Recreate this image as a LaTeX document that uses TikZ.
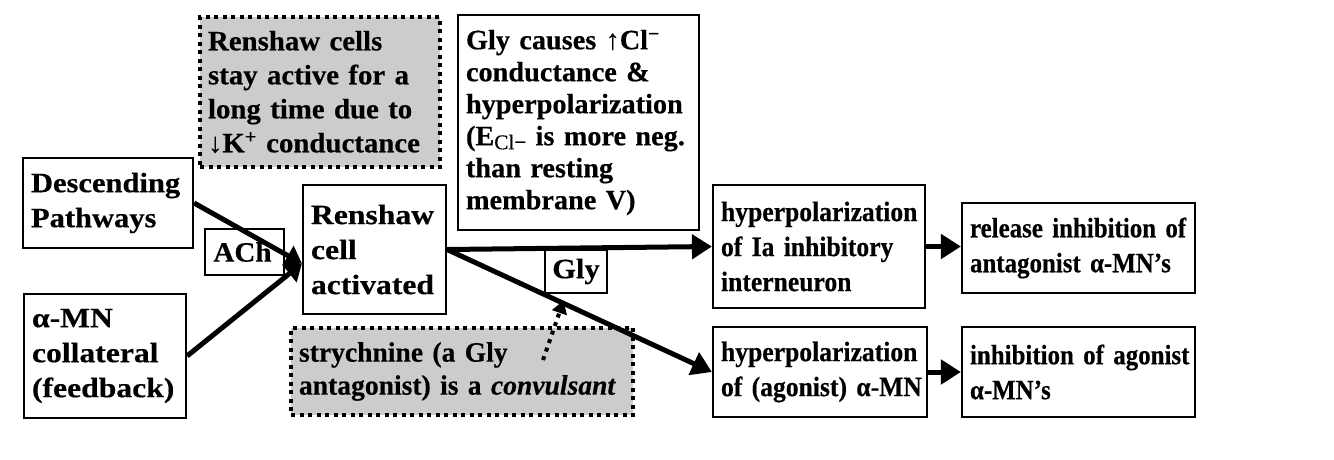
\documentclass[tikz,border=0pt]{standalone}
\usepackage{fontspec}
\setmainfont{Liberation Serif}
\newfontfamily\fA{Liberation Serif}[FakeStretch=1.09,FakeBold=0.4]
\newfontfamily\fAc{Liberation Serif}[FakeStretch=1.04,FakeBold=0.4]
\newfontfamily\fB{Liberation Serif}[FakeStretch=1.13,FakeBold=0.4]
\newfontfamily\fC{Liberation Serif}[FakeStretch=1.03,FakeBold=0.4]
\newfontfamily\fmid{Liberation Serif}[FakeStretch=1.01,FakeBold=0.4]
\newfontfamily\fst{Liberation Serif}[FakeStretch=0.985,FakeBold=0.4]
\newfontfamily\fnarrow{Liberation Serif}[FakeStretch=0.915,FakeBold=0.4]
\newfontfamily\fnn{Liberation Serif}[FakeStretch=0.89,FakeBold=0.4]
\usetikzlibrary{arrows.meta,calc}
\definecolor{boxgray}{RGB}{204,204,204}
\tikzset{
  box/.style={draw=black, line width=2.2pt, fill=white, align=left, inner xsep=8pt, inner ysep=0pt,
    execute at begin node={\hyphenpenalty=10000\exhyphenpenalty=10000\rightskip=-14pt plus 1fil},
    font=\bfseries\fontsize{28}{35}\selectfont},
  dotbox/.style={box, fill=boxgray, line width=4pt, dash pattern=on 4pt off 4.5pt},
  thick arrow/.style={line width=5pt, -{Triangle[length=20pt,width=24pt]}},
  join arrow/.style={line width=5pt, -{Triangle[length=16pt,width=22pt]}},
  dot arrow/.style={line width=4pt, dash pattern=on 4pt off 5pt, -{Triangle[length=13pt,width=15pt]}},
}
\begin{document}
\begin{tikzpicture}[x=1pt,y=-1pt]
\useasboundingbox[fill=white] (0,0) rectangle (1334,459);
% boxes
\node[dotbox, text width=224pt, minimum height=150pt, font=\fC\bfseries\fontsize{28}{34}\selectfont] (rc) at (320,92)
  {Renshaw cells\\stay active for a\\long time due to\\↓K\textsuperscript{+} conductance};
\node[box, text width=225pt, minimum height=215pt, font=\fmid\bfseries\fontsize{28}{32}\selectfont] (gc) at (578.5,122.5)
  {Gly causes ↑Cl\textsuperscript{−}\\conductance \&\\hyperpolarization\\(E\raisebox{-4pt}{\mdseries\fontsize{21}{21}\selectfont Cl−} is more neg.\\than resting\\membrane V)};
\node[box, text width=154pt, minimum height=90pt, font=\fA\bfseries\fontsize{28}{35}\selectfont] (desc) at (108,203)
  {Descending\\Pathways};
\node[box, text width=127pt, minimum height=129pt, font=\fB\bfseries\fontsize{28}{35}\selectfont] (ren) at (374.5,249.5)
  {Renshaw\\cell\\activated};
\node[box, text width=146pt, minimum height=124pt, font=\fB\bfseries\fontsize{28}{35}\selectfont] (amn) at (105,356)
  {α-MN\\collateral\\(feedback)};
\node[box, inner xsep=0pt, minimum width=79pt, minimum height=46pt, align=center, font=\fAc\bfseries\fontsize{28}{35}\selectfont] (ach) at (244.5,252)
  {ACh\hspace*{4pt}};
\node[dotbox, text width=326pt, minimum height=87pt, font=\fst\bfseries\fontsize{28}{33}\selectfont] (st) at (462,371.5)
  {strychnine (a Gly\\antagonist) is a \textit{convulsant}};
\node[box, text width=196pt, minimum height=123pt, font=\fnarrow\bfseries\fontsize{28}{35}\selectfont] (ia) at (819,246.5)
  {hyperpolarization\\of Ia inhibitory\\interneuron};
\node[box, text width=217pt, minimum height=90pt, font=\fnn\bfseries\fontsize{28}{35}\selectfont] (rel) at (1078.5,248)
  {release inhibition of\\antagonist α-MN’s};
\node[box, text width=198pt, minimum height=90pt, font=\fnarrow\bfseries\fontsize{28}{35}\selectfont] (ag) at (820,372)
  {hyperpolarization\\of (agonist) α-MN};
\node[box, text width=217pt, minimum height=90pt, font=\fnn\bfseries\fontsize{28}{35}\selectfont] (inh) at (1078.5,372)
  {inhibition of agonist\\α-MN’s};
\node[box, inner xsep=0pt, minimum width=62pt, minimum height=43pt, align=center, font=\fA\bfseries\fontsize{28}{35}\selectfont] (gly) at (576,271.5)
  {Gly};
% connectors
\draw[join arrow] (desc.east) -- ([yshift=-14pt]ren.west);
\draw[join arrow] (amn.east) -- ([yshift=-14pt]ren.west);
\draw[thick arrow] (ren.east) -- (ia.west);
\draw[thick arrow] (ren.east) -- (ag.west);
\draw[thick arrow] (ia.east) -- (ia.east -| rel.west);
\draw[thick arrow] (ag.east) -- (ag.east -| inh.west);
\coordinate (gtarget) at ($(ren.east)!0.44!(ag.west)+(0,-3)$);
\coordinate (gsrc) at ($(st.north)+(81,34)$);
\draw[dot arrow] (gsrc) -- (gtarget);
\end{tikzpicture}
\end{document}
